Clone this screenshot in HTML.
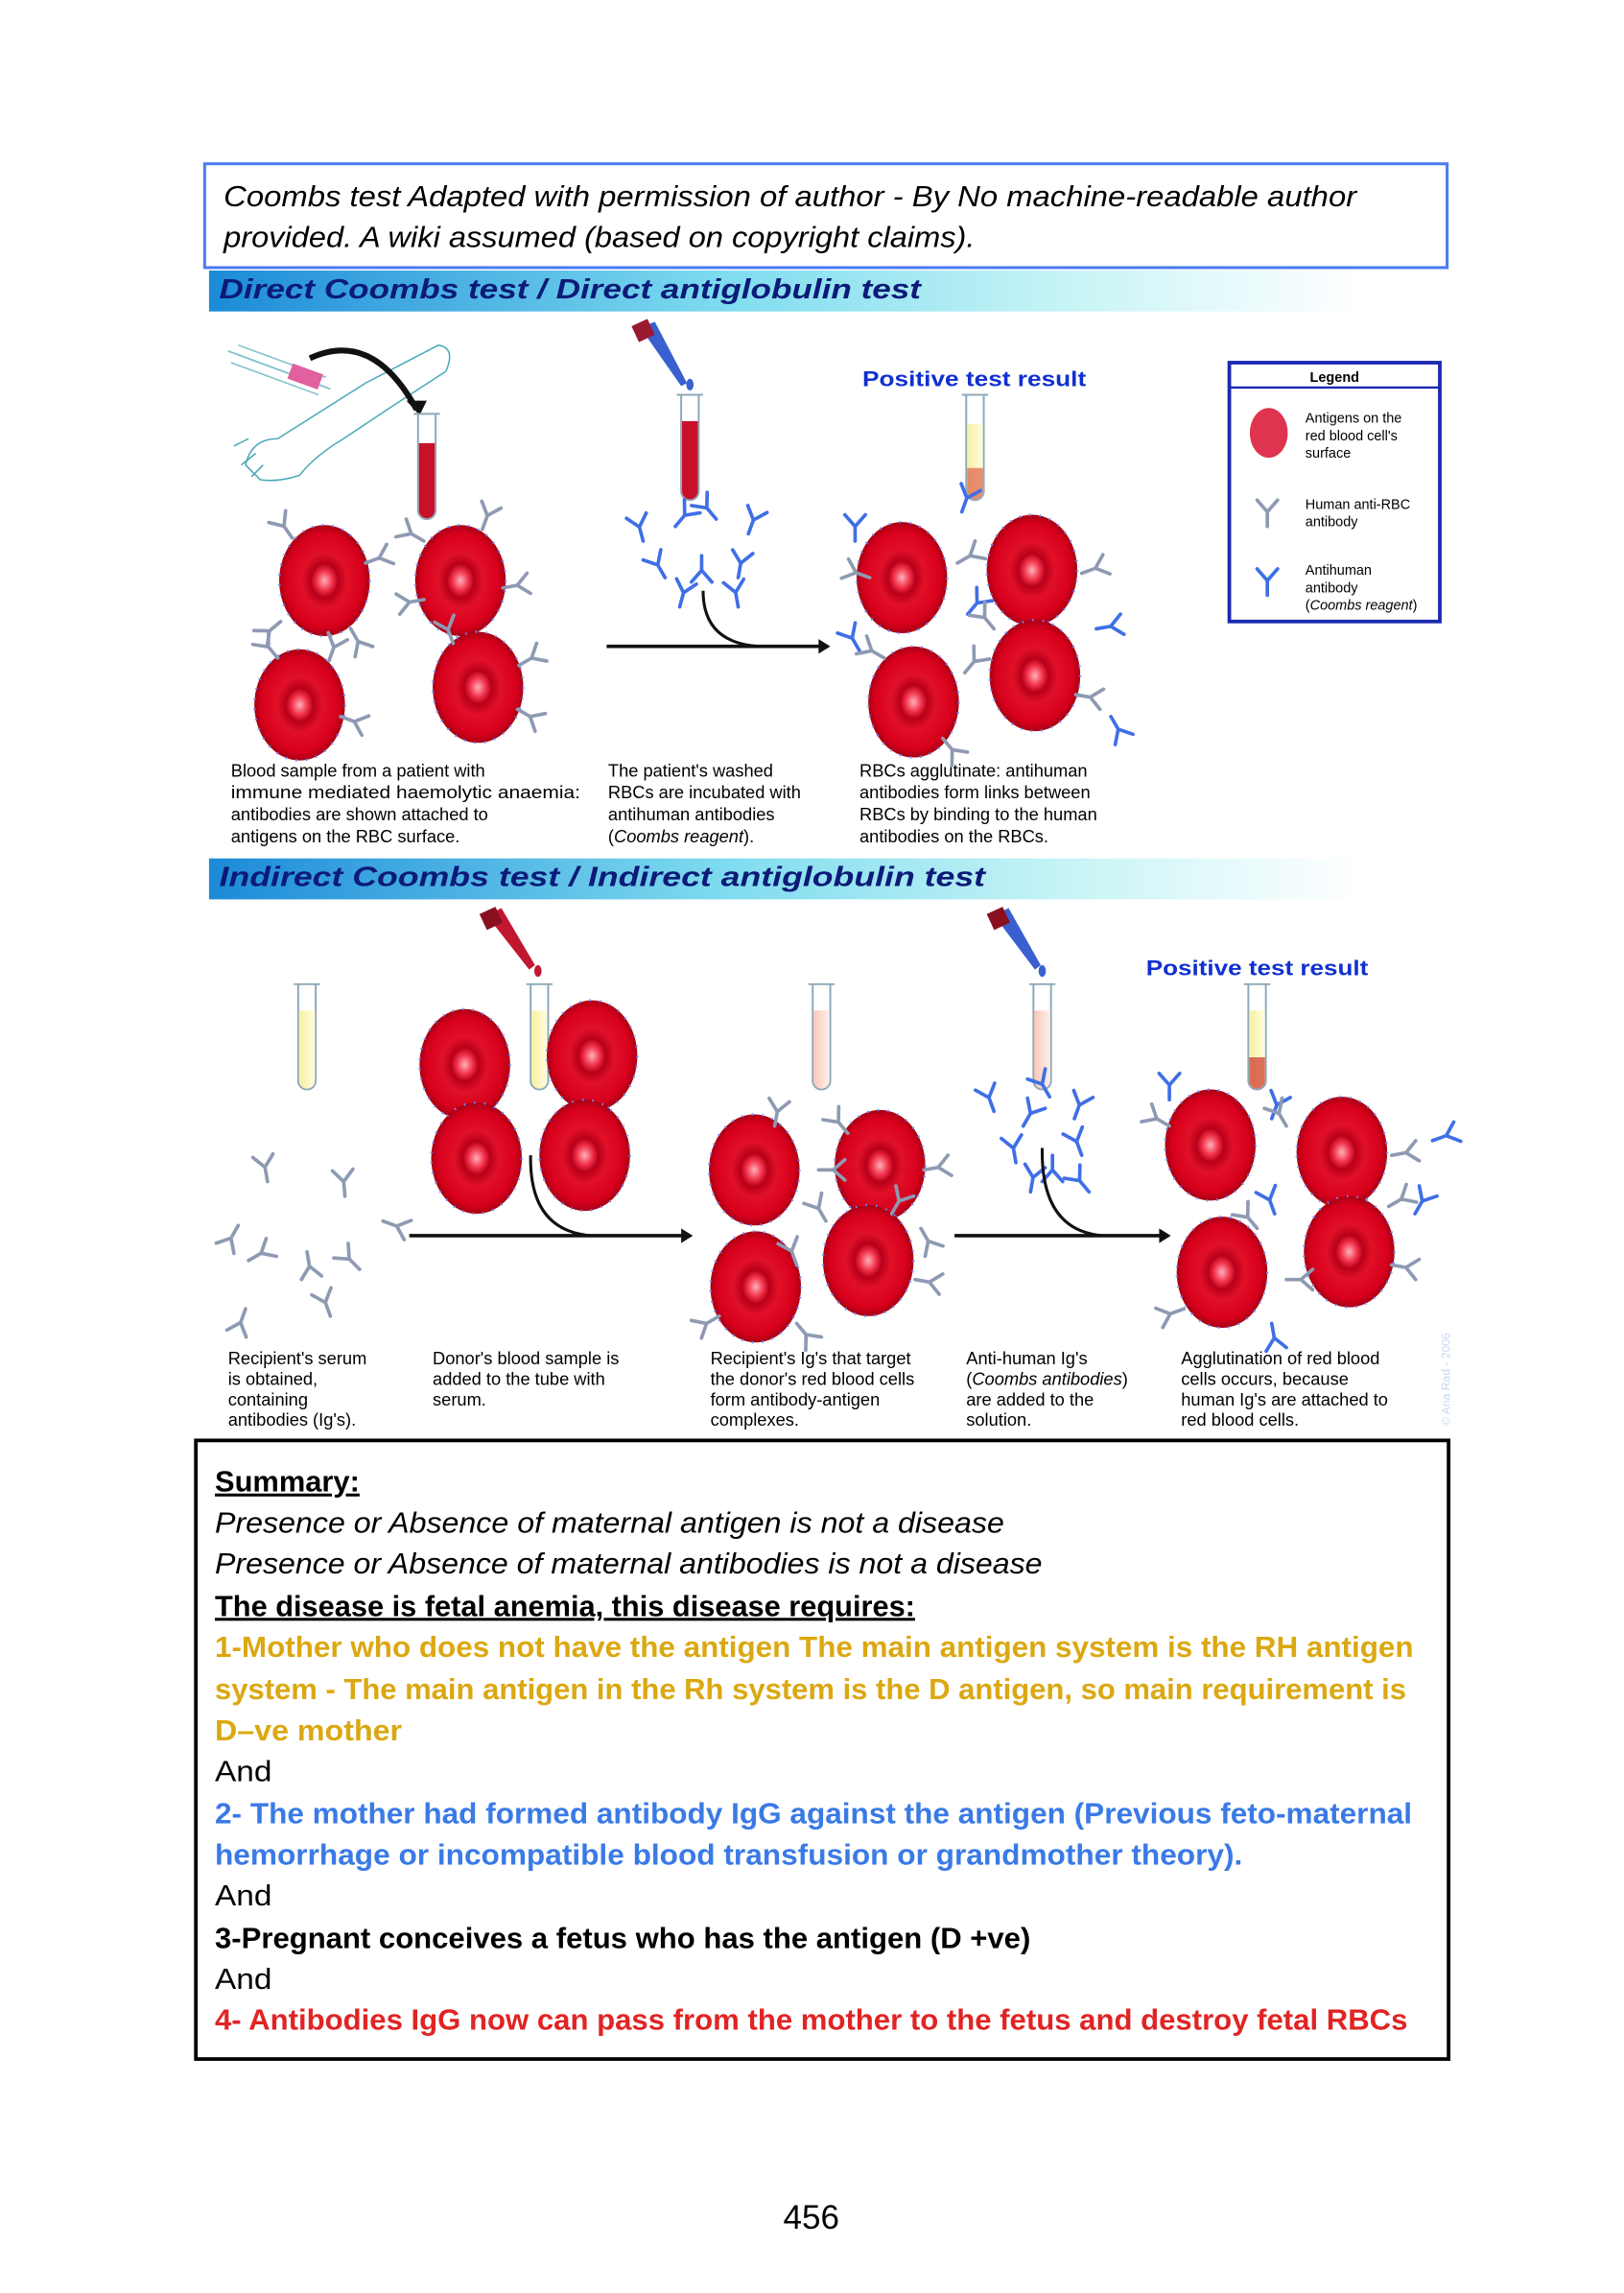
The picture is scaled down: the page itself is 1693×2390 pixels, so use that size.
<!DOCTYPE html>
<html><head><meta charset="utf-8"><style>
html,body{margin:0;padding:0;background:#fff;}
svg{display:block;}
</style></head><body>
<svg width="1693" height="2390" viewBox="0 0 1111 1568" preserveAspectRatio="none" xmlns="http://www.w3.org/2000/svg">
<defs>
<radialGradient id="rbcg" cx="50%" cy="50%" r="50%">
<stop offset="0" stop-color="#ffb0bc"/>
<stop offset="0.18" stop-color="#f03048"/>
<stop offset="0.3" stop-color="#b80018"/>
<stop offset="0.5" stop-color="#e01028"/>
<stop offset="0.85" stop-color="#d8001c"/>
<stop offset="1" stop-color="#a80014"/>
</radialGradient>
<linearGradient id="ban" x1="0" x2="1" y1="0" y2="0">
<stop offset="0" stop-color="#1c8ad8"/>
<stop offset="0.45" stop-color="#7fdcef"/>
<stop offset="0.75" stop-color="#c8f4f6"/>
<stop offset="1" stop-color="#ffffff"/>
</linearGradient>
<linearGradient id="yel" x1="0" x2="1"><stop offset="0" stop-color="#f5f0a0"/><stop offset="1" stop-color="#fffde0"/></linearGradient>
<linearGradient id="pnk" x1="0" x2="1"><stop offset="0" stop-color="#f9c8b8"/><stop offset="1" stop-color="#fff0e8"/></linearGradient>
<g id="rbc"><ellipse rx="31" ry="38" fill="url(#rbcg)" stroke="#6a8cff" stroke-width="1.6" stroke-dasharray="1 6"/></g>
<g id="ab"><path d="M0,0 V-10 L-7,-18 M0,-10 L7,-18" stroke="#8e9ab2" stroke-width="2.4" fill="none" stroke-linecap="round"/></g>
<g id="abb"><path d="M0,0 V-10 L-7,-18 M0,-10 L7,-18" stroke="#3f6fe6" stroke-width="2.4" fill="none" stroke-linecap="round"/></g>
<g id="tube"><path d="M-9,0 H9 M-6,0 V66 A6,6 0 0 0 6,66 V0" stroke="#8fa8b8" stroke-width="1.3" fill="#fff"/></g>
</defs>
<rect width="1111" height="1568" fill="#fff"/>

<rect x="140" y="112" width="850" height="71" fill="#fff" stroke="#4a7cf0" stroke-width="2"/>
<g font-family="Liberation Sans, sans-serif" font-style="italic" font-size="20" fill="#000">
<text x="153" y="141" textLength="775" lengthAdjust="spacingAndGlyphs">Coombs test Adapted with permission of author - By No machine-readable author</text>
<text x="153" y="169" textLength="514" lengthAdjust="spacingAndGlyphs">provided. A wiki assumed (based on copyright claims).</text>
</g>

<rect x="143" y="185" width="787" height="28" fill="url(#ban)"/>
<text x="150" y="204" font-family="Liberation Sans, sans-serif" font-weight="bold" font-style="italic" font-size="19" fill="#0c1a78" textLength="480" lengthAdjust="spacingAndGlyphs">Direct Coombs test / Direct antiglobulin test</text>
<rect x="143" y="587" width="787" height="28" fill="url(#ban)"/>
<text x="150" y="606" font-family="Liberation Sans, sans-serif" font-weight="bold" font-style="italic" font-size="19" fill="#0c1a78" textLength="524" lengthAdjust="spacingAndGlyphs">Indirect Coombs test / Indirect antiglobulin test</text>

<path d="M168,318 Q172,300 190,300 L250,262 L300,236 Q312,238 305,254 L268,278 L235,300 Q215,312 205,325 Q190,330 178,328 Z" fill="#fff" stroke="#4aa8b8" stroke-width="1"/>
<path d="M170,300 L160,305 M175,310 L165,318 M180,318 L172,326" stroke="#4aa8b8" stroke-width="1"/>
<path d="M156,240 L226,266" stroke="#80c0cc" stroke-width="1.2"/>
<path d="M163,236 L223,258 M158,248 L218,270" stroke="#80c0cc" stroke-width="1"/>
<rect x="198" y="252" width="22" height="11" fill="#e060a0" transform="rotate(20 209 257)"/>
<path d="M212,245 Q255,225 285,280" stroke="#111" stroke-width="4" fill="none"/>
<path d="M278,274 L292,274 L287,284 Z" fill="#111"/>
<g transform="translate(292,283)"><use href="#tube"/><path d="M-5.4,20 V66 A5.4,5.4 0 0 0 5.4,66 V20 Z" fill="#c8102a"/></g>
<path d="M438,224 L448,220 L470,262 L466,264 Z" fill="#3a60d0"/>
<rect x="434" y="220" width="12" height="12" fill="#9a1830" transform="rotate(-25 440 226)"/>
<ellipse cx="472" cy="263" rx="2.5" ry="4" fill="#3a60d0"/>
<g transform="translate(472,270)"><use href="#tube"/><path d="M-5.4,18 V66 A5.4,5.4 0 0 0 5.4,66 V18 Z" fill="#c8102a"/></g>
<text x="590" y="264" font-family="Liberation Sans, sans-serif" font-weight="bold" font-size="14.5" fill="#1030d0" textLength="153" lengthAdjust="spacingAndGlyphs">Positive test result</text>
<g transform="translate(667,270)"><use href="#tube"/><path d="M-5.4,20 V66 A5.4,5.4 0 0 0 5.4,66 V20 Z" fill="url(#yel)"/><path d="M-5.4,50 V66 A5.4,5.4 0 0 0 5.4,66 V50 Z" fill="#e06048" opacity="0.7"/></g>

<use href="#rbc" x="222" y="397"/><use href="#rbc" x="315" y="397"/>
<use href="#rbc" x="205" y="482"/><use href="#rbc" x="327" y="470"/>
<use href="#ab" transform="translate(200,368) rotate(-35)"/><use href="#ab" transform="translate(250,385) rotate(70)"/>
<use href="#ab" transform="translate(192,425) rotate(-130)"/><use href="#ab" transform="translate(240,430) rotate(150)"/>
<use href="#ab" transform="translate(290,370) rotate(-60)"/><use href="#ab" transform="translate(330,362) rotate(20)"/>
<use href="#ab" transform="translate(344,402) rotate(80)"/><use href="#ab" transform="translate(290,410) rotate(-100)"/>
<use href="#ab" transform="translate(190,450) rotate(-40)"/><use href="#ab" transform="translate(225,452) rotate(20)"/>
<use href="#ab" transform="translate(233,490) rotate(110)"/><use href="#ab" transform="translate(310,440) rotate(-20)"/>
<use href="#ab" transform="translate(355,455) rotate(60)"/><use href="#ab" transform="translate(354,485) rotate(120)"/>
<use href="#abb" transform="translate(440,370) rotate(-15)"/><use href="#abb" transform="translate(462,360) rotate(40)"/>
<use href="#abb" transform="translate(490,355) rotate(-40)"/><use href="#abb" transform="translate(512,365) rotate(20)"/>
<use href="#abb" transform="translate(455,395) rotate(-30)"/><use href="#abb" transform="translate(480,380) rotate(180)"/>
<use href="#abb" transform="translate(505,395) rotate(10)"/><use href="#abb" transform="translate(465,415) rotate(15)"/>
<use href="#abb" transform="translate(505,415) rotate(-10)"/>
<path d="M481,404 Q481,440 520,442" stroke="#111" stroke-width="2" fill="none"/>
<path d="M415,442 H562" stroke="#111" stroke-width="2.4"/><path d="M560,437 L568,442 L560,447 Z" fill="#111"/>
<use href="#rbc" x="617" y="395"/><use href="#rbc" x="706" y="390"/>
<use href="#rbc" x="625" y="480"/><use href="#rbc" x="708" y="462"/>
<use href="#abb" transform="translate(585,370) rotate(0)"/><use href="#ab" transform="translate(595,395) rotate(-70)"/>
<use href="#abb" transform="translate(658,350) rotate(20)"/><use href="#ab" transform="translate(655,385) rotate(60)"/>
<use href="#abb" transform="translate(662,420) rotate(40)"/><use href="#ab" transform="translate(740,392) rotate(70)"/>
<use href="#abb" transform="translate(750,430) rotate(80)"/><use href="#ab" transform="translate(680,430) rotate(-40)"/>
<use href="#abb" transform="translate(588,445) rotate(-30)"/><use href="#ab" transform="translate(605,450) rotate(-60)"/>
<use href="#ab" transform="translate(660,460) rotate(40)"/><use href="#abb" transform="translate(760,490) rotate(150)"/>
<use href="#ab" transform="translate(736,475) rotate(100)"/><use href="#ab" transform="translate(645,505) rotate(140)"/>
<rect x="841" y="248" width="144" height="177" fill="#fff" stroke="#1a2ab0" stroke-width="2.5"/>
<line x1="841" y1="265" x2="985" y2="265" stroke="#1a2ab0" stroke-width="1.5"/>
<text x="913" y="261" text-anchor="middle" font-family="Liberation Sans, sans-serif" font-weight="bold" font-size="9.5">Legend</text>
<ellipse cx="868" cy="296" rx="13" ry="17" fill="#d81030" opacity="0.85"/>
<use href="#ab" transform="translate(867,360)"/>
<use href="#abb" transform="translate(867,407)"/>
<g font-family="Liberation Sans, sans-serif" font-size="9.5" fill="#000">
<text x="893" y="289">Antigens on the</text><text x="893" y="301">red blood cell's</text><text x="893" y="313">surface</text>
<text x="893" y="348">Human anti-RBC</text><text x="893" y="360">antibody</text>
<text x="893" y="393">Antihuman</text><text x="893" y="405">antibody</text><text x="893" y="417">(<tspan font-style="italic">Coombs reagent</tspan>)</text>
</g>
<g font-family="Liberation Sans, sans-serif" font-size="12" fill="#000">
<text x="158" y="531">Blood sample from a patient with</text>
<text x="158" y="546" textLength="239" lengthAdjust="spacingAndGlyphs">immune mediated haemolytic anaemia:</text>
<text x="158" y="561">antibodies are shown attached to</text>
<text x="158" y="576">antigens on the RBC surface.</text>
<text x="416" y="531">The patient's washed</text>
<text x="416" y="546">RBCs are incubated with</text>
<text x="416" y="561">antihuman antibodies</text>
<text x="416" y="576">(<tspan font-style="italic">Coombs reagent</tspan>).</text>
<text x="588" y="531">RBCs agglutinate: antihuman</text>
<text x="588" y="546">antibodies form links between</text>
<text x="588" y="561">RBCs by binding to the human</text>
<text x="588" y="576">antibodies on the RBCs.</text>
</g>

<g transform="translate(210,673)"><use href="#tube"/><path d="M-5.4,18 V66 A5.4,5.4 0 0 0 5.4,66 V18 Z" fill="url(#yel)"/></g>
<path d="M333,626 L343,621 L366,660 L362,663 Z" fill="#c01830"/>
<rect x="330" y="622" width="12" height="12" fill="#8a1020" transform="rotate(-25 336 628)"/>
<ellipse cx="368" cy="664" rx="2.5" ry="4" fill="#c01830"/>
<g transform="translate(369,673)"><use href="#tube"/><path d="M-5.4,18 V66 A5.4,5.4 0 0 0 5.4,66 V18 Z" fill="url(#yel)"/></g>
<g transform="translate(562,673)"><use href="#tube"/><path d="M-5.4,18 V66 A5.4,5.4 0 0 0 5.4,66 V18 Z" fill="url(#pnk)"/></g>
<path d="M680,626 L690,621 L712,660 L708,663 Z" fill="#3a60d0"/>
<rect x="677" y="622" width="12" height="12" fill="#8a1020" transform="rotate(-25 683 628)"/>
<ellipse cx="713" cy="664" rx="2.5" ry="4" fill="#3a60d0"/>
<g transform="translate(713,673)"><use href="#tube"/><path d="M-5.4,18 V66 A5.4,5.4 0 0 0 5.4,66 V18 Z" fill="url(#pnk)"/></g>
<text x="784" y="667" font-family="Liberation Sans, sans-serif" font-weight="bold" font-size="14.5" fill="#1030d0" textLength="152" lengthAdjust="spacingAndGlyphs">Positive test result</text>
<g transform="translate(860,673)"><use href="#tube"/><path d="M-5.4,18 V66 A5.4,5.4 0 0 0 5.4,66 V18 Z" fill="url(#yel)"/><path d="M-5.4,50 V66 A5.4,5.4 0 0 0 5.4,66 V50 Z" fill="#d04030" opacity="0.75"/></g>
<use href="#ab" transform="translate(183,808) rotate(-10)"/><use href="#ab" transform="translate(236,818) rotate(-5)"/>
<use href="#ab" transform="translate(163,838) rotate(-150)"/><use href="#ab" transform="translate(210,856) rotate(170)"/>
<use href="#ab" transform="translate(262,835) rotate(110)"/><use href="#ab" transform="translate(170,862) rotate(60)"/>
<use href="#ab" transform="translate(246,868) rotate(-45)"/><use href="#ab" transform="translate(168,895) rotate(-160)"/>
<use href="#ab" transform="translate(226,900) rotate(-20)"/>
<use href="#rbc" x="318" y="728"/><use href="#rbc" x="405" y="722"/>
<use href="#rbc" x="326" y="792"/><use href="#rbc" x="400" y="790"/>
<path d="M363,790 Q362,842 405,845" stroke="#111" stroke-width="2" fill="none"/>
<path d="M280,845 H468" stroke="#111" stroke-width="2.4"/><path d="M466,840 L474,845 L466,850 Z" fill="#111"/>
<use href="#rbc" x="516" y="800"/><use href="#rbc" x="602" y="797"/>
<use href="#rbc" x="517" y="880"/><use href="#rbc" x="594" y="862"/>
<use href="#ab" transform="translate(530,770) rotate(10)"/><use href="#ab" transform="translate(560,800) rotate(90)"/>
<use href="#ab" transform="translate(580,775) rotate(-40)"/><use href="#ab" transform="translate(632,800) rotate(80)"/>
<use href="#ab" transform="translate(630,840) rotate(150)"/><use href="#ab" transform="translate(565,835) rotate(-30)"/>
<use href="#ab" transform="translate(610,830) rotate(30)"/><use href="#ab" transform="translate(545,865) rotate(-20)"/>
<use href="#ab" transform="translate(492,900) rotate(-120)"/><use href="#ab" transform="translate(545,905) rotate(140)"/>
<use href="#ab" transform="translate(626,875) rotate(100)"/>
<use href="#abb" transform="translate(680,760) rotate(-20)"/><use href="#abb" transform="translate(700,770) rotate(30)"/>
<use href="#abb" transform="translate(718,750) rotate(-30)"/><use href="#abb" transform="translate(735,765) rotate(20)"/>
<use href="#abb" transform="translate(695,795) rotate(-10)"/><use href="#abb" transform="translate(720,790) rotate(180)"/>
<use href="#abb" transform="translate(740,790) rotate(-20)"/><use href="#abb" transform="translate(705,815) rotate(10)"/>
<use href="#abb" transform="translate(745,815) rotate(-40)"/>
<path d="M713,785 Q712,842 755,845" stroke="#111" stroke-width="2" fill="none"/>
<path d="M653,845 H795" stroke="#111" stroke-width="2.4"/><path d="M793,840 L801,845 L793,850 Z" fill="#111"/>
<use href="#rbc" x="828" y="783"/><use href="#rbc" x="918" y="788"/>
<use href="#rbc" x="836" y="870"/><use href="#rbc" x="923" y="856"/>
<use href="#abb" transform="translate(800,752) rotate(0)"/><use href="#ab" transform="translate(800,770) rotate(-60)"/>
<use href="#abb" transform="translate(870,765) rotate(20)"/><use href="#ab" transform="translate(880,770) rotate(-30)"/>
<use href="#abb" transform="translate(980,780) rotate(70)"/><use href="#ab" transform="translate(952,790) rotate(80)"/>
<use href="#abb" transform="translate(968,830) rotate(30)"/><use href="#ab" transform="translate(950,825) rotate(60)"/>
<use href="#abb" transform="translate(872,830) rotate(-20)"/><use href="#ab" transform="translate(860,840) rotate(-40)"/>
<use href="#ab" transform="translate(880,875) rotate(90)"/><use href="#ab" transform="translate(810,895) rotate(-110)"/>
<use href="#abb" transform="translate(870,905) rotate(170)"/><use href="#ab" transform="translate(952,865) rotate(100)"/>
<g font-family="Liberation Sans, sans-serif" font-size="12" fill="#000">
<text x="156" y="933">Recipient's serum</text><text x="156" y="947">is obtained,</text><text x="156" y="961">containing</text><text x="156" y="975">antibodies (Ig's).</text>
<text x="296" y="933">Donor's blood sample is</text><text x="296" y="947">added to the tube with</text><text x="296" y="961">serum.</text>
<text x="486" y="933">Recipient's Ig's that target</text><text x="486" y="947">the donor's red blood cells</text><text x="486" y="961">form antibody-antigen</text><text x="486" y="975">complexes.</text>
<text x="661" y="933">Anti-human Ig's</text><text x="661" y="947">(<tspan font-style="italic">Coombs antibodies</tspan>)</text><text x="661" y="961">are added to the</text><text x="661" y="975">solution.</text>
<text x="808" y="933">Agglutination of red blood</text><text x="808" y="947">cells occurs, because</text><text x="808" y="961">human Ig's are attached to</text><text x="808" y="975">red blood cells.</text>
</g>
<text x="992" y="975" transform="rotate(-90 992 975)" font-family="Liberation Sans, sans-serif" font-size="8" fill="#c8d8f0">© Aria Rad - 2006</text>

<rect x="134" y="985" width="857" height="423" fill="#fff" stroke="#000" stroke-width="2.5"/>
<g font-family="Liberation Sans, sans-serif" font-size="20">
<text x="147" y="1020" font-weight="bold" text-decoration="underline" textLength="99" lengthAdjust="spacingAndGlyphs">Summary:</text>
<text x="147" y="1048" font-style="italic" textLength="540" lengthAdjust="spacingAndGlyphs">Presence or Absence of maternal antigen is not a disease</text>
<text x="147" y="1076" font-style="italic" textLength="566" lengthAdjust="spacingAndGlyphs">Presence or Absence of maternal antibodies is not a disease</text>
<text x="147" y="1105" font-weight="bold" text-decoration="underline" textLength="479" lengthAdjust="spacingAndGlyphs">The disease is fetal anemia, this disease requires:</text>
<g fill="#dba812" font-weight="bold">
<text x="147" y="1133" textLength="820" lengthAdjust="spacingAndGlyphs">1-Mother who does not have the antigen The main antigen system is the RH antigen</text>
<text x="147" y="1162" textLength="815" lengthAdjust="spacingAndGlyphs">system - The main antigen in the Rh system is the D antigen, so main requirement is</text>
<text x="147" y="1190" textLength="128" lengthAdjust="spacingAndGlyphs">D–ve mother</text>
</g>
<text x="147" y="1218" textLength="39" lengthAdjust="spacingAndGlyphs">And</text>
<g fill="#3a7ae6" font-weight="bold">
<text x="147" y="1247" textLength="819" lengthAdjust="spacingAndGlyphs">2- The mother had formed antibody IgG against the antigen (Previous feto-maternal</text>
<text x="147" y="1275" textLength="703" lengthAdjust="spacingAndGlyphs">hemorrhage or incompatible blood transfusion or grandmother theory).</text>
</g>
<text x="147" y="1303" textLength="39" lengthAdjust="spacingAndGlyphs">And</text>
<text x="147" y="1332" font-weight="bold" textLength="558" lengthAdjust="spacingAndGlyphs">3-Pregnant conceives a fetus who has the antigen (D +ve)</text>
<text x="147" y="1360" textLength="39" lengthAdjust="spacingAndGlyphs">And</text>
<text x="147" y="1388" font-weight="bold" fill="#e02424" textLength="816" lengthAdjust="spacingAndGlyphs">4- Antibodies IgG now can pass from the mother to the fetus and destroy fetal RBCs</text>
</g>
<text x="555" y="1524" text-anchor="middle" font-family="Liberation Sans, sans-serif" font-size="23">456</text>
</svg>
</body></html>
